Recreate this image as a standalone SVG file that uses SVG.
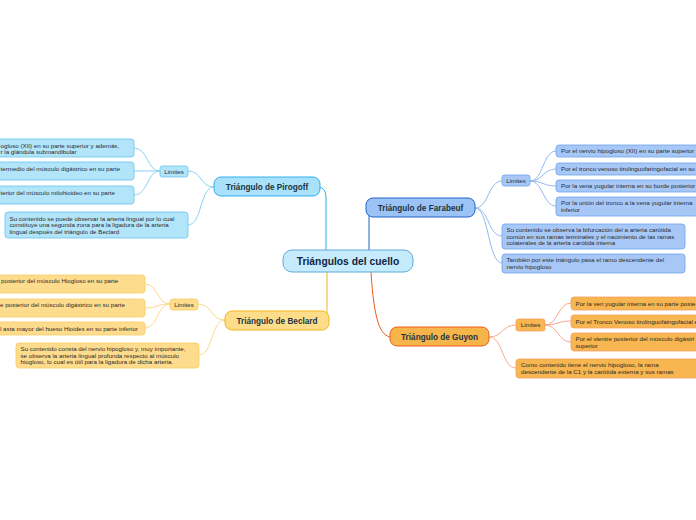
<svg xmlns="http://www.w3.org/2000/svg" width="696" height="520" viewBox="0 0 696 520">
<style>
text{font-family:"Liberation Sans",Arial,sans-serif;}
.leaf{font-size:6.2px;fill:#2a2a2a;}
.lim{font-size:6.2px;fill:#2a2a2a;}
.main{font-size:8.2px;font-weight:bold;fill:#1d3340;}
.c{fill:none;stroke-width:1;}
.pc{stroke:#86d3f3;}
.fc{stroke:#93b8ee;}
.bc{stroke:#fcd98c;}
.gc{stroke:#f9a98d;}
.pl{fill:#b3e5fa;stroke:#62c6ef;stroke-width:0.8;}
.fl{fill:#a7c8f7;stroke:#6ba2ec;stroke-width:0.8;}
.bl{fill:#fedc8d;stroke:#f8cd66;stroke-width:0.8;}
.gl{fill:#f7b64f;stroke:#f5a064;stroke-width:0.8;}
</style>
<rect width="696" height="520" fill="#ffffff"/>
<g id="connectors">
<path class="c" d="M326,250 L326,198 Q326,187 318,187" stroke="#2fb0ea" stroke-width="1.3" fill="none"/>
<path class="c" d="M369,250 L369,216 Q369,208 376,208" stroke="#1f62c8" stroke-width="1.3" fill="none"/>
<path class="c" d="M327,272 L327,313 Q327,320 322,320" stroke="#f3b516" stroke-width="1.3" fill="none"/>
<path class="c" d="M371,272 C374,320 380,337 392,337" stroke="#ee5a1e" stroke-width="1.3" fill="none"/>
<path class="c pc" d="M214,187 C200,187 202,171 188,171"/>
<path class="c pc" d="M214,187 C200,187 202,225 188,225"/>
<path class="c pc" d="M160,171 C147,171 148,148 134,148"/>
<path class="c pc" d="M160,171 L134,171"/>
<path class="c pc" d="M160,171 C147,171 148,195 134,195"/>
<path class="c fc" d="M475,208 C489,208 488,181 502,181"/>
<path class="c fc" d="M475,208 C489,208 488,236 502,236"/>
<path class="c fc" d="M475,208 C489,208 488,263 502,263"/>
<path class="c fc" d="M530,181 C543,181 543,151 556,151"/>
<path class="c fc" d="M530,181 C543,181 543,169 556,169"/>
<path class="c fc" d="M530,181 C543,181 543,186 556,186"/>
<path class="c fc" d="M530,181 C543,181 543,206 556,206"/>
<path class="c bc" d="M225,320 C211,320 212,304 198,304"/>
<path class="c bc" d="M225,320 C211,320 213,355 199,355"/>
<path class="c bc" d="M170,304 C157,304 158,284 145,284"/>
<path class="c bc" d="M170,304 C157,304 158,308 145,308"/>
<path class="c bc" d="M170,304 C157,304 158,328 145,328"/>
<path class="c gc" d="M489,337 C503,337 502,325 516,325"/>
<path class="c gc" d="M489,337 C503,337 502,368 516,368"/>
<path class="c gc" d="M545,325 C558,325 558,303 571,303"/>
<path class="c gc" d="M545,325 C558,325 558,321 571,321"/>
<path class="c gc" d="M545,325 C558,325 558,342 571,342"/>
</g>
<g id="center">
<rect x="283" y="250" width="130" height="22" rx="9" fill="#c6ebfc" stroke="#5fa9da" stroke-width="1"/>
<text x="348" y="264.8" text-anchor="middle" font-size="10.3" font-weight="bold" fill="#10253f">Triángulos del cuello</text>
</g>
<g id="pirogoff">
<rect x="214" y="177" width="106" height="19" rx="7" fill="#a8e1f9" stroke="#2fb0ea" stroke-width="1"/>
<text class="main" x="267" y="189.5" text-anchor="middle">Triángulo de Pirogoff</text>
</g>
<g id="pirogoff-limites">
<rect class="pl" x="160" y="166" width="28" height="11" rx="2.5"/>
<text class="lim" x="174" y="173.8" text-anchor="middle">Limites</text>
</g>
<g id="pirogoff-l1">
<rect class="pl" x="-5" y="139" width="139" height="18" rx="3"/>
<text class="leaf" x="0.5" y="147.5">ogloso (XII) en su parte superior y además,</text>
<text class="leaf" x="0.5" y="154">r la glándula submandibular</text>
</g>
<g id="pirogoff-l2">
<rect class="pl" x="-5" y="162" width="139" height="18" rx="3"/>
<text class="leaf" x="0.5" y="170.5">termedio del músculo digástrico en su parte</text>
</g>
<g id="pirogoff-l3">
<rect class="pl" x="-5" y="186" width="139" height="18" rx="3"/>
<text class="leaf" x="0.5" y="194.5">terior del músculo milohioideo en su parte</text>
</g>
<g id="pirogoff-contenido">
<rect class="pl" x="5" y="212" width="183" height="26" rx="3"/>
<text class="leaf" x="9.5" y="220.5">Su contenido se puede observar la arteria lingual por lo cual</text>
<text class="leaf" x="9.5" y="227">constituye una segunda zona para la ligadura de la arteria</text>
<text class="leaf" x="9.5" y="233.5">lingual después del triángulo de Beclard</text>
</g>
<g id="farabeuf">
<rect x="366" y="198" width="109" height="19" rx="7" fill="#9cc3f6" stroke="#1f62c8" stroke-width="1"/>
<text class="main" x="420.5" y="210.5" text-anchor="middle">Triángulo de Farabeuf</text>
</g>
<g id="farabeuf-limites">
<rect class="fl" x="502" y="175" width="28" height="11" rx="2.5"/>
<text class="lim" x="516" y="182.8" text-anchor="middle">Limites</text>
</g>
<g id="farabeuf-l1">
<rect class="fl" x="556" y="145" width="145" height="12" rx="3"/>
<text class="leaf" x="561" y="153.2">Por el nervio hipogloso (XII) en su parte superior</text>
</g>
<g id="farabeuf-l2">
<rect class="fl" x="556" y="163" width="145" height="12" rx="3"/>
<text class="leaf" x="561" y="171.2">Por el tronco venoso tirolinguofaringofacial en su b</text>
</g>
<g id="farabeuf-l3">
<rect class="fl" x="556" y="180" width="145" height="12" rx="3"/>
<text class="leaf" x="561" y="188.2">Por la vena yugular interna en su borde posterior</text>
</g>
<g id="farabeuf-l4">
<rect class="fl" x="556" y="197" width="145" height="19" rx="3"/>
<text class="leaf" x="561" y="205">Por la unión del tronco a la vena yugular interna</text>
<text class="leaf" x="561" y="211.5">inferior</text>
</g>
<g id="farabeuf-contenido">
<rect class="fl" x="502" y="224" width="183" height="25" rx="3"/>
<text class="leaf" x="506.5" y="232">Su contenido se observa la bifurcación del a arteria carótida</text>
<text class="leaf" x="506.5" y="238.5">común en sus ramas terminales y el nacimiento de las ramas</text>
<text class="leaf" x="506.5" y="245">colaterales de la arteria carótida interna</text>
</g>
<g id="farabeuf-nervio">
<rect class="fl" x="502" y="254" width="183" height="19" rx="3"/>
<text class="leaf" x="506.5" y="262">También por este triángulo pasa el ramo descendente del</text>
<text class="leaf" x="506.5" y="268.5">nervio hipogloso</text>
</g>
<g id="beclard">
<rect x="225" y="311" width="104" height="19" rx="7" fill="#fddc8a" stroke="#f3b516" stroke-width="1"/>
<text class="main" x="277" y="323.5" text-anchor="middle">Triángulo de Beclard</text>
</g>
<g id="beclard-limites">
<rect class="bl" x="170" y="299" width="28" height="11" rx="2.5"/>
<text class="lim" x="184" y="306.8" text-anchor="middle">Limites</text>
</g>
<g id="beclard-l1">
<rect class="bl" x="-5" y="275" width="150" height="18" rx="3"/>
<text class="leaf" x="1" y="283">posterior del músculo Hiogloso en su parte</text>
</g>
<g id="beclard-l2">
<rect class="bl" x="-5" y="299" width="150" height="18" rx="3"/>
<text class="leaf" x="0" y="307">e posterior del músculo digástrico en su parte</text>
</g>
<g id="beclard-l3">
<rect class="bl" x="-5" y="322" width="150" height="13" rx="3"/>
<text class="leaf" x="0" y="330.5">l asta mayor del hueso Hioides en su parte inferior</text>
</g>
<g id="beclard-contenido">
<rect class="bl" x="16" y="343" width="183" height="25" rx="3"/>
<text class="leaf" x="20.5" y="351">Su contenido consta del nervio hipogloso y, muy importante,</text>
<text class="leaf" x="20.5" y="357.5">se observa la arteria lingual profunda respecto al músculo</text>
<text class="leaf" x="20.5" y="364">hiogloso, lo cual es útil para la ligadura de dicha arteria.</text>
</g>
<g id="guyon">
<rect x="390" y="327" width="99" height="19" rx="7" fill="#f6b54b" stroke="#ee5a1e" stroke-width="1"/>
<text class="main" x="439.5" y="339.5" text-anchor="middle">Triángulo de Guyon</text>
</g>
<g id="guyon-limites">
<rect class="gl" x="516" y="319" width="29" height="12" rx="2.5"/>
<text class="lim" x="530.5" y="327.4" text-anchor="middle">Limites</text>
</g>
<g id="guyon-l1">
<rect class="gl" x="571" y="297" width="130" height="13" rx="3"/>
<text class="leaf" x="575.5" y="305.5">Por la ven yugular interna en su parte poste</text>
</g>
<g id="guyon-l2">
<rect class="gl" x="571" y="315" width="130" height="13" rx="3"/>
<text class="leaf" x="575.5" y="323.5">Por el Tronco Venoso tirolinguofaingofacial e</text>
</g>
<g id="guyon-l3">
<rect class="gl" x="571" y="333" width="130" height="18" rx="3"/>
<text class="leaf" x="575.5" y="341">Por el vientre posterior del músculo digástri</text>
<text class="leaf" x="575.5" y="347.5">superior</text>
</g>
<g id="guyon-contenido">
<rect class="gl" x="516" y="359" width="185" height="19" rx="3"/>
<text class="leaf" x="521" y="367">Como contenido tiene el nervio hipogloso, la rama</text>
<text class="leaf" x="521" y="373.5">descendente de la C1 y la carótida externa y sus ramas</text>
</g>
</svg>
